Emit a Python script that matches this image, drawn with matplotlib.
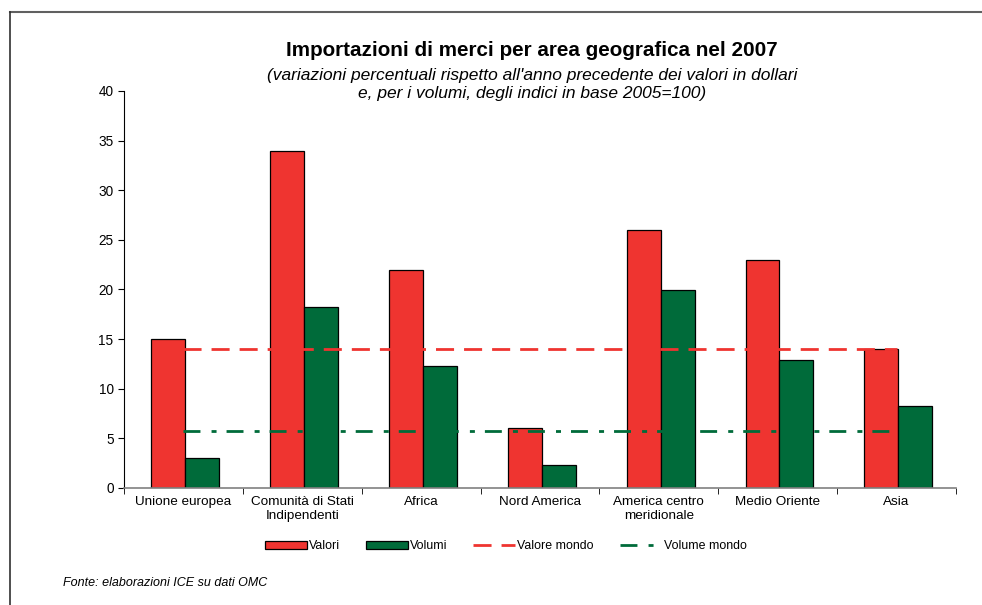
import numpy as np
import matplotlib.pyplot as plt
from matplotlib.lines import Line2D

plt.rcParams['font.family'] = ['Liberation Sans', 'DejaVu Sans']

categories = ['Unione europea', 'Comunità di Stati\nIndipendenti', 'Africa', 'Nord America',
              'America centro\nmeridionale', 'Medio Oriente', 'Asia']
valori = [15, 34, 22, 6, 26, 23, 14]
volumi = [3, 18.2, 12.3, 2.3, 19.9, 12.9, 8.3]
valore_mondo = 14
volume_mondo = 5.7

red = '#EF3430'
green = '#006B3A'
red_dash = (6.5, 3.6)
green_dash = (6.1, 4.0, 1.8, 3.6)

fig = plt.figure(figsize=(9.82, 6.05), dpi=100)
ax = fig.add_axes([0.1263, 0.1934, 0.8472, 0.6562])

x = np.arange(len(categories))
w = 0.285
ax.bar(x - w / 2 + 0.015, valori, w, color=red, edgecolor='black', linewidth=0.9, label='Valori', zorder=2)
ax.bar(x + w / 2 + 0.015, volumi, w, color=green, edgecolor='black', linewidth=0.9, label='Volumi', zorder=2)

ax.plot([x[0], x[-1]], [valore_mondo] * 2, color=red, linewidth=2, dashes=red_dash, zorder=3)
ax.plot([x[0], x[-1]], [volume_mondo] * 2, color=green, linewidth=2, dashes=green_dash, zorder=3)

ax.set_xlim(-0.5, len(categories) - 0.5)
ax.set_ylim(0, 40)
ax.set_yticks(range(0, 41, 5))
ax.set_xticks(x)
ax.set_xticklabels(categories, fontsize=9.7)
ax.set_xticks(np.arange(-0.5, len(categories), 1), minor=True)
ax.tick_params(axis='x', which='major', length=0, pad=6)
ax.tick_params(axis='x', which='minor', length=4, direction='out', color='black')
ax.tick_params(axis='y', labelsize=9.8, length=4, direction='out')
for s in ['top', 'right']:
    ax.spines[s].set_visible(False)
ax.spines['left'].set_color('black')
ax.spines['bottom'].set_color('#808080')
ax.spines['bottom'].set_linewidth(1.2)

fig.text(0.542, 0.917, 'Importazioni di merci per area geografica nel 2007',
         ha='center', va='center', fontsize=14.9, fontweight='bold')
fig.text(0.542, 0.861, "(variazioni percentuali rispetto all'anno precedente dei valori in dollari\n"
         "e, per i volumi, degli indici in base 2005=100)",
         ha='center', va='center', fontsize=12.5, style='italic', linespacing=1.24)

handles = [
    plt.Rectangle((0, 0), 1, 1, facecolor=red, edgecolor='black', linewidth=0.9),
    plt.Rectangle((0, 0), 1, 1, facecolor=green, edgecolor='black', linewidth=0.9),
    Line2D([], [], color=red, linewidth=2, dashes=red_dash),
    Line2D([], [], color=green, linewidth=2, dashes=green_dash),
]
labels = ['Valori', 'Volumi', 'Valore mondo', 'Volume mondo']
fig.legend(handles, labels, loc='center', bbox_to_anchor=(0.515, 0.097), ncol=4,
           frameon=False, fontsize=8.9, handlelength=3.4, handleheight=0.7,
           handletextpad=0.15, columnspacing=2.1)

fig.text(0.064, 0.036, 'Fonte: elaborazioni ICE su dati OMC', fontsize=9, style='italic',
         ha='left', va='center')

# cornice parziale (solo bordo sinistro e superiore)
fig.add_artist(Line2D([0.0102, 1.0], [0.98, 0.98], color='#606060', linewidth=1.5,
                      transform=fig.transFigure))
fig.add_artist(Line2D([0.0102, 0.0102], [0.0, 0.98], color='#303030', linewidth=1.2,
                      transform=fig.transFigure))

fig.savefig('out.png', dpi=100)
